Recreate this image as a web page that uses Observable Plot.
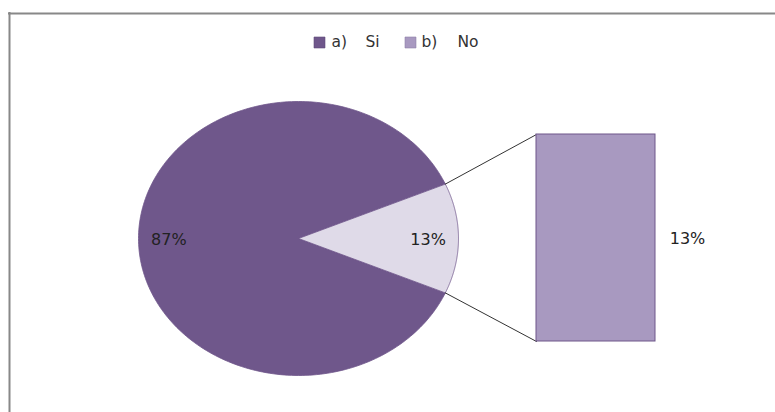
<!DOCTYPE html>
<html><head><meta charset="utf-8">
<script src="https://cdn.jsdelivr.net/npm/d3@7"></script>
<script src="https://cdn.jsdelivr.net/npm/@observablehq/plot@0.6"></script>
<style>html,body{margin:0;padding:0;background:#fff;overflow:hidden}</style>
</head><body><div id="chart"></div>
<script>
// ---- data ----
const keys = ["a)", "b)"];
const names = ["Si", "No"];
const values = [87, 13];
const pieLabels = ["87%", "13%"];
const barValues = [13];
const barLabels = ["13%"];
const pieColors = ["#6f578b", "#dfdae8"];
const legendColors = ["#6f578b", "#a899c0"];
const barColor = "#a899c0";
const edge = "#6e568a";

// ---- layout (pixels) ----
const W = 775, H = 412, cx = 298, cy = 238, rx = 160, ry = 137;
const barLeftPx = 536, barRightPx = 655, barTopPx = 134, barBottomPx = 341;
const ux = p => (p - cx) / rx;      // px -> x units
const uy = p => (cy - p) / ry;      // px -> y units

const total = d3.sum(values);
const half = Math.PI * values[1] / total;

function arc(a0, a1) {
  const pts = [{x: 0, y: 0}];
  const n = 240;
  for (let i = 0; i <= n; i++) {
    const a = a0 + (a1 - a0) * i / n;
    pts.push({x: Math.cos(a), y: Math.sin(a)});
  }
  pts.push({x: 0, y: 0});
  return pts;
}
const sliceSi = arc(half, 2 * Math.PI - half);
const sliceNo = arc(-half, half);

const labelPts = [
  {x: -0.81, y: -0.01, t: pieLabels[0]},
  {x: 0.81, y: -0.01, t: pieLabels[1]}
];

// secondary bar (stack of secondary values)
const bx1 = ux(barLeftPx), bx2 = ux(barRightPx);
const byTop = uy(barTopPx), byBot = uy(barBottomPx);
const barTotal = d3.sum(barValues);
let acc = 0;
const barRects = barValues.map((v, i) => {
  const y1 = byBot + (byTop - byBot) * acc / barTotal;
  acc += v;
  const y2 = byBot + (byTop - byBot) * acc / barTotal;
  return {x1: bx1, x2: bx2, y1, y2, label: barLabels[i]};
});

const connectors = [
  [{x: Math.cos(half), y: Math.sin(half)}, {x: bx1, y: byTop}],
  [{x: Math.cos(half), y: -Math.sin(half)}, {x: bx1, y: byBot}]
].flatMap((seg, i) => seg.map(p => ({...p, k: i})));

// legend
const legend = keys.map((k, i) => ({
  sq: ux([319, 410][i]),
  kx: ux([331, 421][i]),
  nx: ux([365, 457][i]),
  y: uy(42),
  key: k, name: names[i], color: legendColors[i]
}));

const font = "DejaVu Sans, Verdana, sans-serif";

const chart = Plot.plot({
  width: W, height: H,
  margin: 0,
  x: {domain: [ux(0), ux(W)], axis: null},
  y: {domain: [uy(H), uy(0)], axis: null},
  style: {fontFamily: font, background: "#fff"},
  marks: [
    Plot.ruleY([uy(13)], {x1: ux(8), x2: ux(W), stroke: "#888", strokeWidth: 2, strokeOpacity: 1}),
    Plot.ruleX([ux(9)], {y1: uy(12), y2: uy(H), stroke: "#888", strokeWidth: 2, strokeOpacity: 1}),
    Plot.line(sliceSi, {x: "x", y: "y", fill: pieColors[0], stroke: edge, strokeWidth: 0.8}),
    Plot.line(sliceNo, {x: "x", y: "y", fill: pieColors[1], stroke: edge, strokeWidth: 0.8}),
    Plot.line(connectors, {x: "x", y: "y", z: "k", stroke: "#333", strokeWidth: 1}),
    Plot.rect(barRects, {x1: "x1", x2: "x2", y1: "y1", y2: "y2", fill: barColor, stroke: edge, strokeWidth: 1}),
    Plot.text(labelPts, {x: "x", y: "y", text: "t", fontSize: 16, fill: "#222"}),
    Plot.text(barRects, {x: ux(687), y: d => (d.y1 + d.y2) / 2 - 0.01, text: "label", fontSize: 16, fill: "#222"}),
    Plot.dot(legend, {x: "sq", y: "y", symbol: "square", r: 6.2, fill: "color", stroke: d => d.color === legendColors[0] ? "#5e4a78" : "#8f80a8", strokeWidth: 0.6}),
    Plot.text(legend, {x: "kx", y: "y", text: "key", textAnchor: "start", fontSize: 15.5, fill: "#333"}),
    Plot.text(legend, {x: "nx", y: "y", text: "name", textAnchor: "start", fontSize: 15.5, fill: "#333"})
  ]
});
document.getElementById("chart").appendChild(chart);
</script>
</body></html>
